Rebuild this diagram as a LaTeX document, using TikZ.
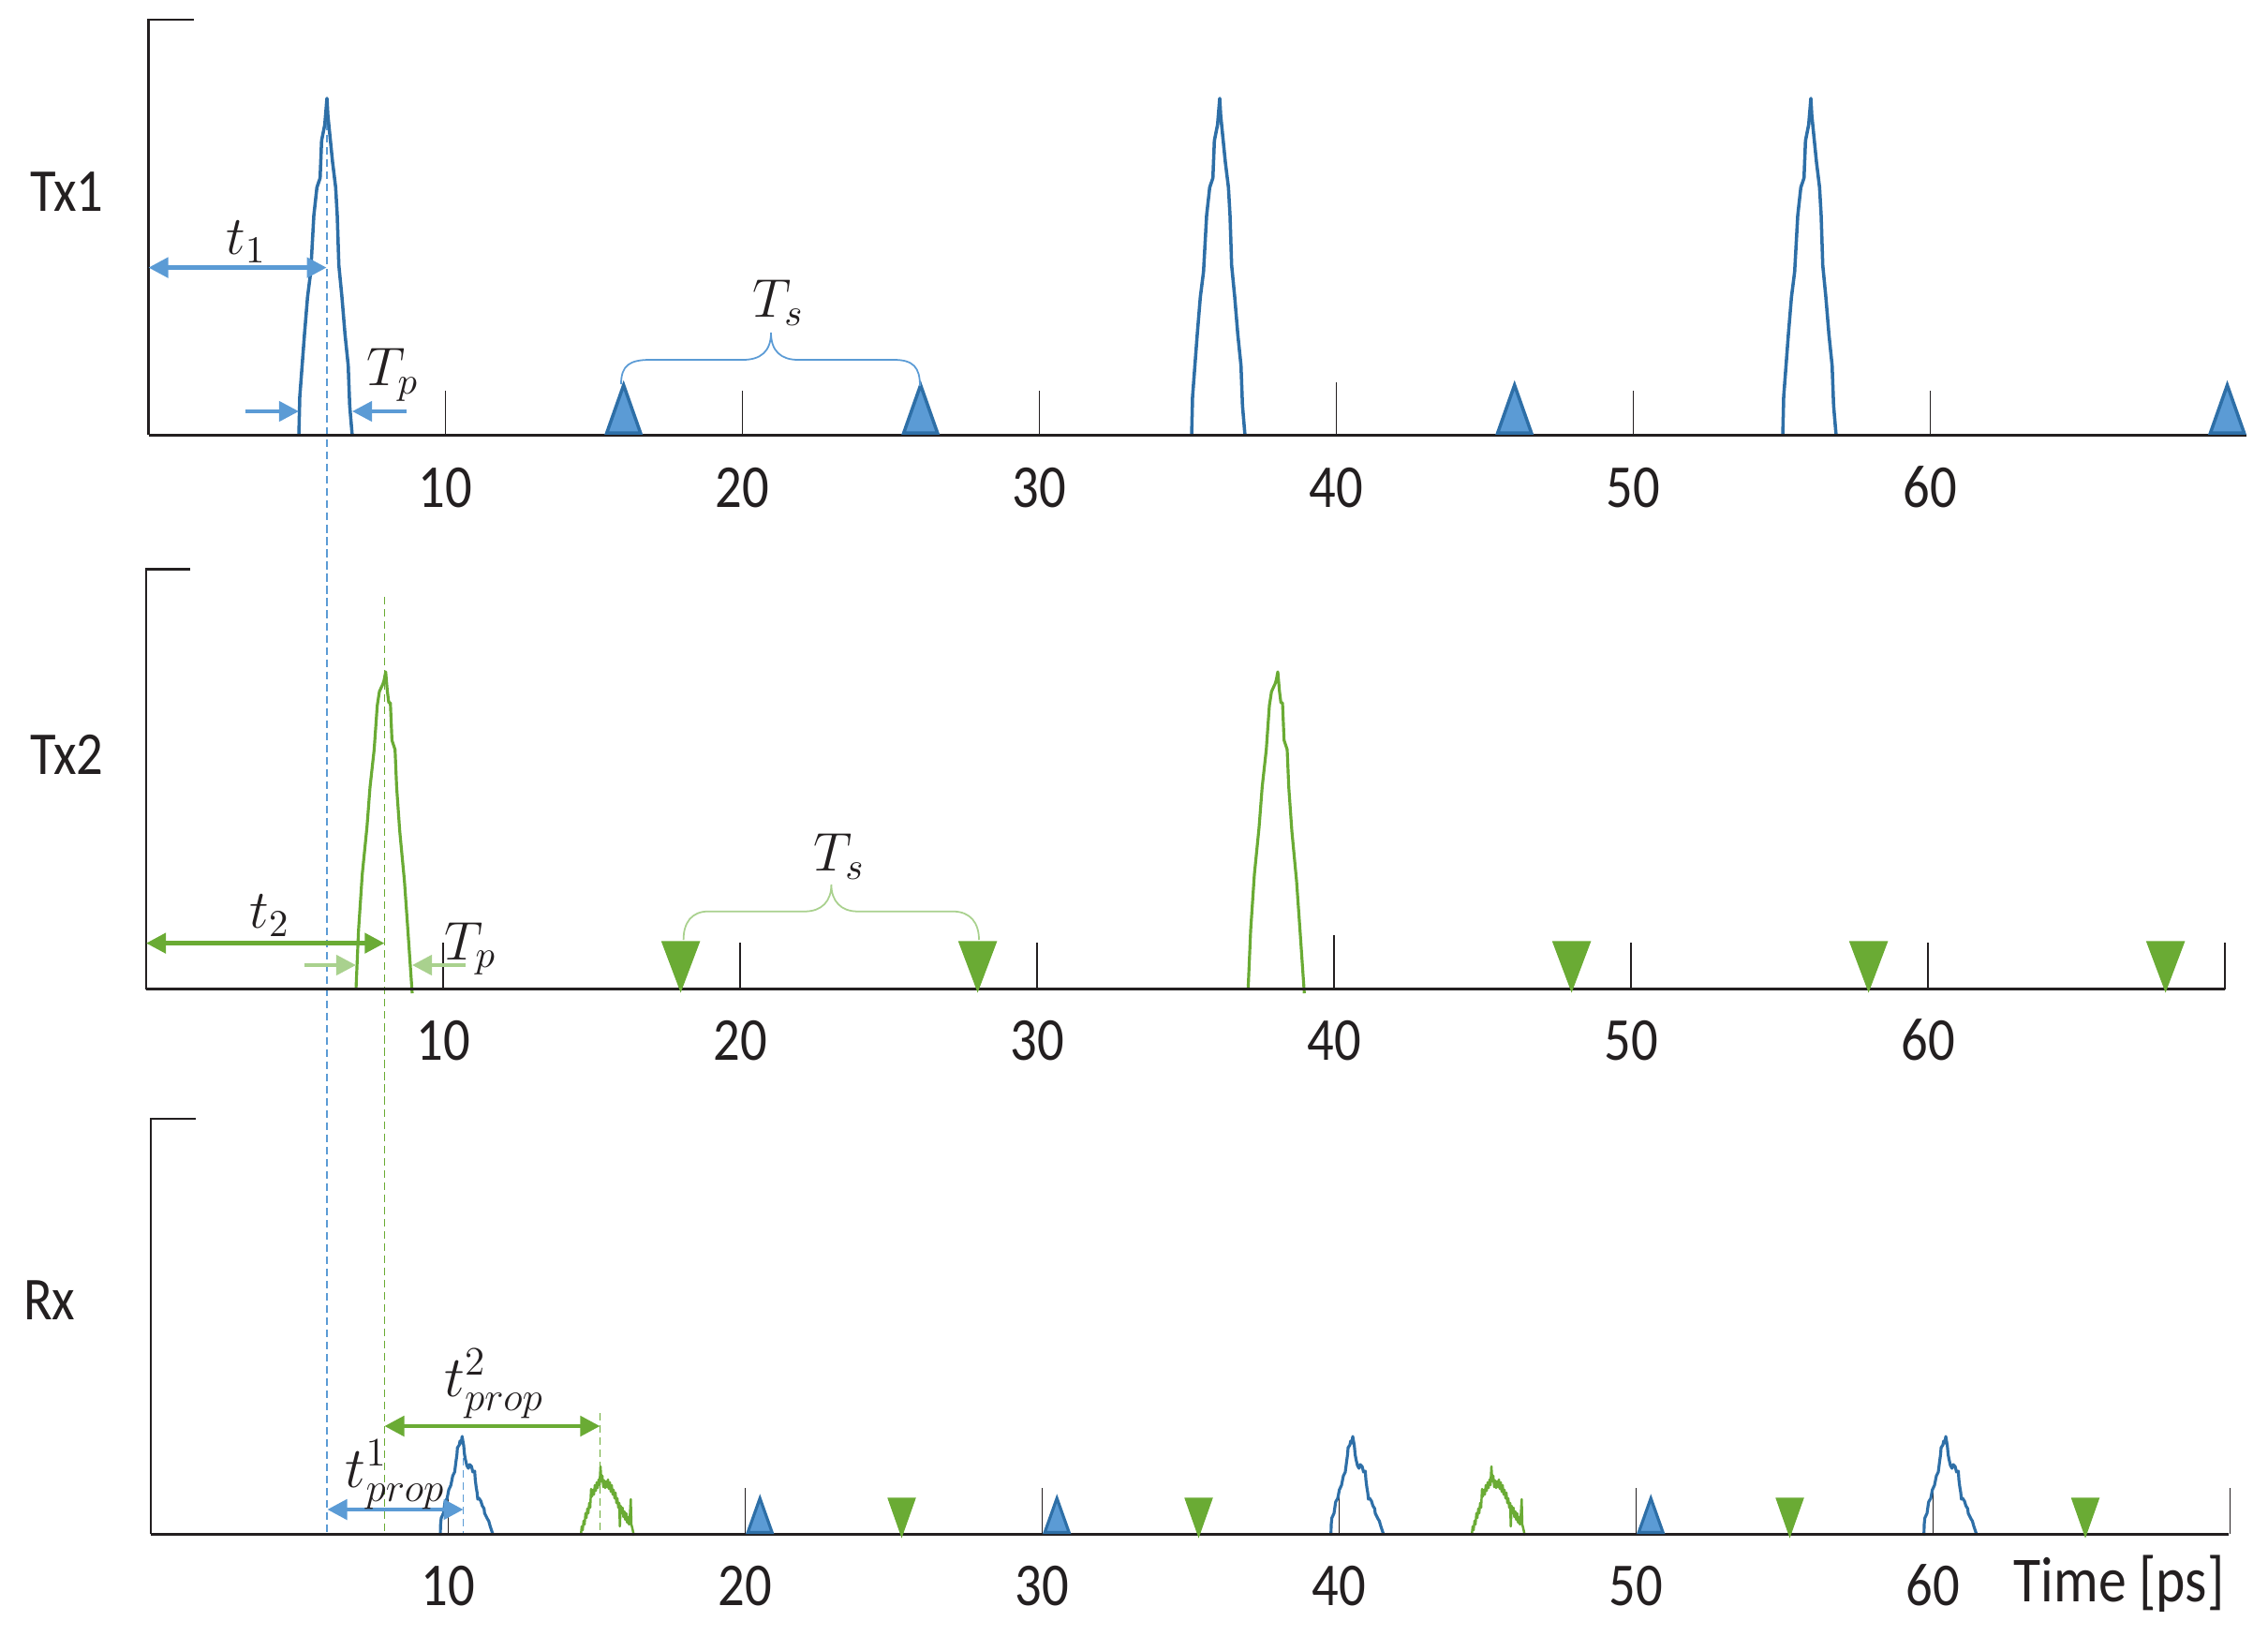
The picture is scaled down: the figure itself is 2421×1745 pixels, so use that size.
\RequirePackage{fix-cm}
\documentclass[tikz,border=0pt]{standalone}
\usepackage{fontspec}
\setmainfont{Carlito}[FakeStretch=0.87]
\usetikzlibrary{arrows.meta}
\definecolor{pblue}{HTML}{2E6FA7}
\definecolor{ablue}{HTML}{5B9BD5}
\definecolor{pgreen}{HTML}{6AAB34}
\definecolor{lgreen}{HTML}{A9D18E}
\definecolor{axcol}{HTML}{231F20}
\newcommand{\pulseTxA}[2]{\draw[#1, shift={(#2)}, line join=round] (-30,0) -- (-29,-41.7) -- (-24,-108) -- (-20.7,-148) -- (-17.3,-175) -- (-14,-235) -- (-10.7,-265) -- (-7.3,-275) -- (-5.7,-315) -- (-2.3,-332) -- (0,-360) -- (1,-342) -- (2.7,-325) -- (6,-292) -- (9.3,-265) -- (11,-235) -- (12.7,-182) -- (16,-148) -- (19.3,-108) -- (22.7,-75) -- (24.3,-32) -- (27,0);}
\newcommand{\pulseTxB}[2]{\draw[#1, shift={(#2)}, line join=round] (-31.7,0) -- (-29,-63) -- (-25,-123) -- (-20,-173) -- (-16.7,-216) -- (-12.3,-256) -- (-9,-303) -- (-6.7,-318) -- (-3,-326) -- (-1.7,-330) -- (0,-339) -- (1.7,-319) -- (3.3,-306) -- (5,-306) -- (6.7,-266) -- (10,-256) -- (11.7,-216) -- (15,-169) -- (20,-116) -- (23.3,-69) -- (28.3,4);}
\newcommand{\pulseRxB}[2]{\draw[#1, shift={(#2)}, line join=round] (-23.3,2) -- (-23,-10) -- (-22.3,-17) -- (-20,-22) -- (-18.3,-34) -- (-16,-38) -- (-14.3,-47) -- (-12,-52) -- (-10,-62) -- (-8,-66) -- (-6.6,-77) -- (-5.5,-85) -- (-5,-92) -- (-3,-95) -- (-2.3,-99) -- (-1,-97) -- (0,-104) -- (1,-98) -- (1.7,-94) -- (2.5,-85) -- (3.4,-80) -- (5,-73) -- (6.7,-70) -- (8,-74) -- (10,-72) -- (11.5,-66) -- (13.4,-67) -- (14,-58) -- (15,-50) -- (16,-44) -- (16.7,-37) -- (18,-38) -- (20,-35) -- (21.5,-30) -- (23.4,-27) -- (24,-22) -- (25,-20) -- (27,-16) -- (28.4,-13.7) -- (30,-8) -- (32.7,0);}
\newcommand{\pulseRxG}[2]{\draw[#1, shift={(#2)}, line join=round] (-21,2) -- (-20,-8) -- (-19,-4) -- (-18,-14) -- (-17,-10) -- (-16,-22) -- (-15,-17) -- (-14,-27) -- (-13,-22) -- (-12,-33) -- (-11,-28) -- (-10,-48) -- (-9,-40) -- (-8,-47) -- (-7,-42) -- (-6,-52) -- (-5,-46) -- (-4,-55) -- (-3,-49) -- (-2,-58) -- (-1,-52) -- (0,-72) -- (1,-56) -- (2,-62) -- (3,-50) -- (4,-57) -- (5,-49) -- (6,-56) -- (7,-50) -- (8,-58) -- (9,-48) -- (10,-55) -- (11,-45) -- (12,-52) -- (13,-42) -- (14,-47) -- (15,-38) -- (16,-44) -- (17,-33) -- (18,-38) -- (19,-28) -- (20,-33) -- (20.7,-8) -- (21.5,-30) -- (22.5,-22) -- (23.5,-28) -- (24.5,-18) -- (25.5,-24) -- (26.5,-15) -- (27.5,-22) -- (28.5,-12) -- (29.5,-18) -- (30.5,-10) -- (31.5,-22) -- (32.3,-37) -- (33,-10) -- (34,-6) -- (35.7,2);}
\begin{document}
\begin{tikzpicture}[x=0.01cm,y=-0.01cm,
  baseln/.style={draw=axcol, line width=0.85pt},
  axln/.style={draw=axcol, line width=0.6pt},
  tickln/.style={draw=axcol, line width=0.45pt},
  ticklab/.style={font=\fontsize{18.5}{22}\selectfont, text=axcol, anchor=base, inner sep=0pt},
  rowlab/.style={font=\fontsize{18.5}{22}\selectfont, text=axcol, anchor=base west, inner sep=0pt},
  mathlab/.style={font=\fontsize{16.5}{20}\selectfont, text=axcol, inner sep=0pt},
  dimarr/.style={line width=1.3pt, {Triangle[length=6pt,width=6pt]}-{Triangle[length=6pt,width=6pt]}},
  onearr/.style={line width=1.2pt, -{Triangle[length=6pt,width=6pt]}},
  vdash/.style={dash pattern=on 2.3pt off 1.4pt, line width=0.45pt},
  bracestyle/.style={line width=0.5pt},
  upmark/.style={fill=ablue, draw=pblue, line width=1pt, line join=miter},
  dnmark/.style={fill=pgreen, draw=pgreen, line width=0.3pt}]
\useasboundingbox (0,0) rectangle (2421,1745);

% ---------- dashed reference lines ----------
\coordinate (bdtop) at (349,105);
\coordinate (bdbot) at (349,1637);
\coordinate (gdtop) at (410.5,637);
\coordinate (gdbot) at (410.5,1637);
\coordinate (bdstop) at (494.6,1543);
\coordinate (bdsbot) at (494.6,1637);
\coordinate (gdstop) at (640.5,1508);
\coordinate (gdsbot) at (640.5,1637);
\draw[vdash, ablue] (bdtop) -- (bdbot);
\draw[vdash, pgreen] (gdtop) -- (gdbot);
\draw[vdash, ablue] (bdstop) -- (bdsbot);
\draw[vdash, pgreen] (gdstop) -- (gdsbot);

% ---------- Panel Tx1 ----------
\draw[axln] (207,21.4) -- (158.5,21.4) -- (158.5,464);
\foreach \t in {10,20,30,50,60} \draw[tickln] ({158.5+31.7*\t},464) -- ++(0,-47);
\draw[tickln] ({158.5+31.7*40},464) -- ++(0,-56);
\foreach \t in {10,20,30,40,50,60} \node[ticklab] (la\t) at ({158.5+31.7*\t},541) {\t};
\node[rowlab] (ltx1) at (31.6,225.6) {Tx1};
\pulseTxA{pblue, line width=1pt}{349,465}
\pulseTxA{pblue, line width=1pt}{1302,465}
\pulseTxA{pblue, line width=1pt}{1933,465}
\draw[baseln] (158.5,464) -- (2398,464);
\foreach \x in {665.7,982.7,1616.7,2377.5}
  \draw[upmark] (\x-18,462) -- (\x,411) -- (\x+18,462) -- cycle;
% brace Ts
\draw[bracestyle, ablue] (663,410) .. controls (663,390) and (672,384) .. (694,384) -- (793,384) .. controls (812,384) and (823,375) .. (823,355) .. controls (823,375) and (834,384) .. (852,384) -- (954,384) .. controls (975,384) and (982,392) .. (982,412);
\node[mathlab] (lts1) at (831,323) {$T_s$};
% t1 arrow
\coordinate (t1a) at (158.5,285.6);
\coordinate (t1b) at (348.6,285.6);
\draw[dimarr, ablue] (t1a) -- (t1b);
\node[mathlab] (lt1) at (263,258) {$t_1$};
% Tp arrows
\coordinate (tpa1) at (261.7,439);
\coordinate (tpa2) at (319,439);
\coordinate (tpb1) at (433.5,439);
\coordinate (tpb2) at (376,439);
\draw[onearr, ablue] (tpa1) -- (tpa2);
\draw[onearr, ablue] (tpb1) -- (tpb2);
\node[mathlab] (ltp1) at (419,400) {$T_p$};

% ---------- Panel Tx2 ----------
\draw[axln] (203,607.5) -- (156,607.5) -- (156,1055.5);
\foreach \t in {10,20,30,50,60,70} \draw[tickln] ({156+31.7*\t},1055.5) -- ++(0,-49.5);
\draw[tickln] ({156+31.7*40},1055.5) -- ++(0,-58);
\foreach \t in {10,20,30,40,50,60} \node[ticklab] (lb\t) at ({156+31.7*\t},1131.6) {\t};
\node[rowlab] (ltx2) at (31.6,826) {Tx2};
\pulseTxB{pgreen, line width=0.9pt}{411.7,1056}
\pulseTxB{pgreen, line width=0.9pt}{1364,1056}
\draw[baseln] (156,1055.5) -- (2375,1055.5);
\foreach \x in {726.6,1043.6,1677.6,1994.6,2311.6}
  \draw[dnmark] (\x-20,1005) -- (\x+20,1005) -- (\x,1058) -- cycle;
\draw[bracestyle, lgreen] (729.6,1003) .. controls (729.6,985) and (738,972.7) .. (756,972.7) -- (859,972.7) .. controls (877,972.7) and (887.4,962) .. (887.4,944) .. controls (887.4,962) and (898,972.7) .. (915.5,972.7) -- (1017,972.7) .. controls (1036,972.7) and (1045,985) .. (1045,1003);
\node[mathlab] (lts2) at (896,914) {$T_s$};
\coordinate (t2a) at (156,1006.6);
\coordinate (t2b) at (410.4,1006.6);
\draw[dimarr, pgreen] (t2a) -- (t2b);
\node[mathlab] (lt2) at (288,977) {$t_2$};
\coordinate (tpc1) at (324.8,1030);
\coordinate (tpc2) at (380,1030);
\coordinate (tpd1) at (496.7,1030);
\coordinate (tpd2) at (440,1030);
\draw[onearr, lgreen] (tpc1) -- (tpc2);
\draw[onearr, lgreen] (tpd1) -- (tpd2);
\node[mathlab] (ltp2) at (502,1012.7) {$T_p$};

% ---------- Panel Rx ----------
\draw[axln] (209,1193.6) -- (161.3,1193.6) -- (161.3,1637);
\foreach \t in {10,20,30,40,50,60,70} \draw[tickln] ({161.3+31.7*\t},1637) -- ++(0,-49);
\foreach \t in {10,20,30,40,50,60} \node[ticklab] (lc\t) at ({161.3+31.7*\t},1713.6) {\t};
\node[ticklab, anchor=base west, font=\fontsize{19.5}{22}\selectfont] (ltime) at (2149,1709.8) {Time [ps]};
\node[rowlab] (lrx) at (24.5,1408) {Rx};
\pulseRxB{pblue, line width=0.9pt}{493.3,1637}
\pulseRxB{pblue, line width=0.9pt}{1444,1637}
\pulseRxB{pblue, line width=0.9pt}{2077,1637}
\pulseRxG{pgreen, line width=0.7pt}{641,1637}
\pulseRxG{pgreen, line width=0.7pt}{1592,1637}
\draw[baseln] (161.3,1637) -- (2379,1637);
\foreach \x in {811.2,1128.2,1762.2}
  \draw[upmark, line width=0.9pt] (\x-13,1635.5) -- (\x,1599) -- (\x+13,1635.5) -- cycle;
\foreach \x in {962.5,1279.5,1910.5,2226}
  \draw[dnmark] (\x-14.5,1599) -- (\x+14.5,1599) -- (\x,1640) -- cycle;
\coordinate (tr1a) at (349.4,1611);
\coordinate (tr1b) at (494.6,1611);
\draw[dimarr, ablue] (tr1a) -- (tr1b);
\coordinate (tr2a) at (410.4,1522);
\coordinate (tr2b) at (640.5,1522);
\draw[dimarr, pgreen] (tr2a) -- (tr2b);
\node[mathlab, font=\fontsize{17.5}{20}\selectfont] (ltpr2) at (527.5,1477) {$t^2_{prop}$};
\node[mathlab, font=\fontsize{17.5}{20}\selectfont] (ltpr1) at (422,1574) {$t^1_{prop}$};
\end{tikzpicture}
\end{document}
